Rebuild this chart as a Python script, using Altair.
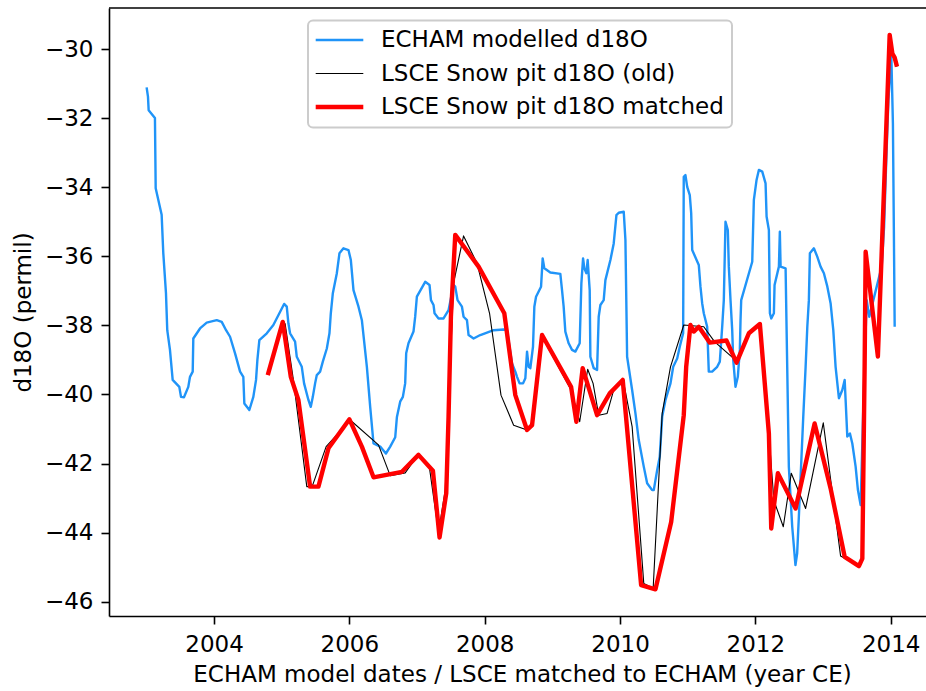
import altair as alt
import pandas as pd

# ECHAM modelled d18O (decimal year, permil)
echam_year = [
    2003.004, 2003.024, 2003.034, 2003.127, 2003.138, 2003.226, 2003.250, 2003.290, 2003.309, 2003.349,
    2003.389, 2003.487, 2003.512, 2003.556, 2003.620, 2003.645, 2003.685, 2003.694, 2003.793, 2003.892,
    2004.040, 2004.114, 2004.178, 2004.237, 2004.311, 2004.385, 2004.433, 2004.448, 2004.522, 2004.581,
    2004.621, 2004.641, 2004.670, 2004.780, 2004.877, 2004.966, 2005.036, 2005.075, 2005.099, 2005.124,
    2005.198, 2005.223, 2005.297, 2005.331, 2005.395, 2005.430, 2005.460, 2005.494, 2005.519, 2005.568,
    2005.608, 2005.667, 2005.706, 2005.726, 2005.756, 2005.815, 2005.854, 2005.913, 2005.987, 2006.022,
    2006.061, 2006.135, 2006.185, 2006.259, 2006.308, 2006.357, 2006.456, 2006.540, 2006.604, 2006.678,
    2006.703, 2006.751, 2006.791, 2006.825, 2006.840, 2006.874, 2006.948, 2006.973, 2006.998, 2007.121,
    2007.185, 2007.206, 2007.244, 2007.259, 2007.318, 2007.392, 2007.466, 2007.540, 2007.565, 2007.599,
    2007.664, 2007.688, 2007.738, 2007.762, 2007.836, 2007.935, 2008.034, 2008.132, 2008.280, 2008.330,
    2008.404, 2008.453, 2008.478, 2008.516, 2008.567, 2008.601, 2008.626, 2008.650, 2008.675, 2008.714,
    2008.734, 2008.759, 2008.833, 2008.857, 2008.882, 2008.970, 2009.118, 2009.143, 2009.167, 2009.192,
    2009.241, 2009.291, 2009.340, 2009.404, 2009.429, 2009.454, 2009.473, 2009.503, 2009.522, 2009.552,
    2009.562, 2009.611, 2009.661, 2009.685, 2009.710, 2009.759, 2009.784, 2009.858, 2009.907, 2009.947,
    2009.981, 2010.055, 2010.080, 2010.105, 2010.179, 2010.228, 2010.277, 2010.351, 2010.401, 2010.475,
    2010.499, 2010.549, 2010.587, 2010.623, 2010.672, 2010.746, 2010.786, 2010.845, 2010.883, 2010.933,
    2010.942, 2010.967, 2010.993, 2011.031, 2011.052, 2011.067, 2011.164, 2011.189, 2011.214, 2011.238,
    2011.288, 2011.312, 2011.362, 2011.436, 2011.475, 2011.510, 2011.534, 2011.559, 2011.593, 2011.608,
    2011.633, 2011.658, 2011.673, 2011.707, 2011.741, 2011.771, 2011.781, 2011.791, 2011.954, 2011.978,
    2012.018, 2012.052, 2012.102, 2012.151, 2012.166, 2012.200, 2012.215, 2012.235, 2012.274, 2012.284,
    2012.348, 2012.362, 2012.373, 2012.447, 2012.462, 2012.471, 2012.495, 2012.545, 2012.593, 2012.618,
    2012.643, 2012.708, 2012.743, 2012.768, 2012.791, 2012.806, 2012.865, 2012.915, 2012.964, 2013.013,
    2013.064, 2013.112, 2013.152, 2013.186, 2013.235, 2013.285, 2013.320, 2013.334, 2013.359, 2013.398,
    2013.433, 2013.482, 2013.516, 2013.556, 2013.601, 2013.645, 2013.684, 2013.744, 2013.867, 2013.903,
    2013.932, 2013.966, 2014.010, 2014.033, 2014.047, 2014.059,
]
echam_d18o = [
    -31.11, -31.38, -31.77, -32.00, -34.03, -34.80, -35.90, -37.07, -38.14, -38.71,
    -39.58, -39.78, -40.07, -40.08, -39.78, -39.49, -39.34, -38.38, -38.09, -37.92,
    -37.85, -37.90, -38.14, -38.33, -38.81, -39.34, -39.49, -40.26, -40.45, -40.07,
    -39.58, -39.00, -38.43, -38.23, -37.99, -37.65, -37.38, -37.46, -37.94, -38.23,
    -38.47, -38.91, -39.20, -39.68, -40.16, -40.36, -40.07, -39.68, -39.44, -39.34,
    -39.05, -38.67, -38.23, -37.65, -37.07, -36.49, -35.91, -35.77, -35.82, -36.11,
    -36.98, -37.46, -37.85, -39.20, -40.36, -41.42, -41.51, -41.71, -41.51, -41.24,
    -40.65, -40.21, -40.07, -39.68, -38.81, -38.52, -38.18, -37.75, -37.17, -36.74,
    -36.83, -37.27, -37.41, -37.65, -37.80, -37.80, -37.56, -36.83, -36.88, -37.27,
    -37.46, -37.75, -37.85, -38.28, -38.38, -38.28, -38.21, -38.14, -38.12, -38.14,
    -39.10, -39.34, -39.49, -39.68, -39.68, -39.53, -38.76, -39.20, -39.24, -38.62,
    -37.46, -37.17, -36.88, -36.06, -36.35, -36.47, -36.51, -36.98, -37.46, -38.18,
    -38.52, -38.71, -38.76, -38.52, -36.78, -36.06, -36.35, -36.49, -36.11, -36.98,
    -38.91, -39.24, -39.29, -37.75, -37.41, -37.27, -36.69, -36.11, -35.63, -34.81,
    -34.74, -34.71, -35.53, -38.91, -39.87, -40.55, -41.32, -42.09, -42.57, -42.77,
    -42.77, -42.19, -41.80, -40.65, -40.16, -39.68, -39.20, -38.96, -38.62, -38.23,
    -33.70, -33.65, -33.99, -34.23, -34.76, -35.82, -36.25, -36.88, -37.36, -37.65,
    -38.04, -39.34, -39.34, -39.20, -39.05, -38.04, -37.27, -35.00, -35.24, -36.30,
    -37.27, -38.14, -39.00, -39.78, -39.49, -38.71, -37.85, -37.27, -36.16, -34.37,
    -33.79, -33.50, -33.55, -33.89, -34.85, -35.24, -37.65, -37.80, -37.65, -36.83,
    -36.30, -35.29, -36.30, -36.35, -38.14, -39.20, -42.09, -43.83, -44.94, -44.60,
    -43.54, -40.65, -39.20, -38.04, -37.27, -35.91, -35.77, -36.01, -36.30, -36.49,
    -36.88, -37.36, -38.14, -39.20, -40.11, -39.87, -39.58, -40.16, -41.22, -41.13,
    -41.42, -42.09, -42.77, -43.20, -40.00, -37.27, -37.75, -37.27, -36.30, -35.14,
    -33.40, -31.48, -30.22, -32.15, -35.24, -38.04,
]

# LSCE snow pit d18O on the old depth-age scale
old_year = [
    2005.050, 2005.173, 2005.371, 2005.450, 2005.657, 2006.012, 2006.430, 2006.604, 2006.825, 2007.022,
    2007.185, 2007.318, 2007.417, 2007.540, 2007.688, 2007.886, 2008.072, 2008.241, 2008.428, 2008.626,
    2008.714, 2008.848, 2009.277, 2009.404, 2009.522, 2009.602, 2009.685, 2009.809, 2009.907, 2010.046,
    2010.179, 2010.351, 2010.490, 2010.623, 2010.746, 2010.942, 2011.238, 2011.396, 2011.732, 2011.880,
    2012.052, 2012.200, 2012.274, 2012.413, 2012.531, 2012.743, 2013.004, 2013.260, 2013.531, 2013.581,
    2013.615, 2013.630, 2013.811, 2013.985, 2014.025, 2014.093,
]
old_d18o = [
    -37.94, -39.58, -42.67, -42.67, -41.51, -40.74, -41.46, -42.35, -42.27, -41.73,
    -42.14, -43.99, -42.77, -36.78, -35.41, -36.20, -37.65, -40.02, -40.89, -41.03,
    -40.84, -38.33, -39.87, -40.79, -39.27, -39.68, -40.60, -40.55, -39.87, -39.58,
    -40.93, -45.47, -45.61, -40.55, -39.20, -37.99, -38.04, -38.47, -39.05, -38.33,
    -37.96, -41.13, -43.07, -43.83, -42.28, -43.30, -40.82, -44.68, -44.97, -44.75,
    -39.20, -35.87, -38.90, -29.59, -30.13, -30.51,
]

# LSCE snow pit d18O matched to the ECHAM dates
matched_year = [
    2004.794, 2005.016, 2005.135, 2005.247, 2005.420, 2005.543, 2005.691, 2006.001, 2006.185, 2006.357,
    2006.777, 2007.022, 2007.235, 2007.333, 2007.432, 2007.466, 2007.501, 2007.565, 2007.910, 2008.290,
    2008.453, 2008.626, 2008.700, 2008.848, 2009.277, 2009.355, 2009.448, 2009.661, 2009.848, 2010.040,
    2010.312, 2010.524, 2010.756, 2010.942, 2010.978, 2011.041, 2011.090, 2011.164, 2011.327, 2011.574,
    2011.722, 2011.904, 2012.067, 2012.200, 2012.235, 2012.333, 2012.595, 2012.876, 2013.112, 2013.320,
    2013.531, 2013.581, 2013.615, 2013.630, 2013.811, 2013.985, 2014.025, 2014.059, 2014.093,
]
matched_d18o = [
    -39.44, -37.90, -39.49, -40.16, -42.67, -42.67, -41.56, -40.72, -41.51, -42.40,
    -42.24, -41.75, -42.21, -44.14, -42.86, -40.65, -37.75, -35.38, -36.30, -37.65,
    -40.02, -41.03, -40.89, -38.28, -39.78, -40.79, -39.24, -40.60, -39.97, -39.58,
    -45.52, -45.64, -43.69, -40.60, -39.20, -37.99, -38.18, -38.04, -38.50, -38.44,
    -39.08, -38.23, -37.96, -41.13, -43.88, -42.28, -43.30, -40.84, -42.72, -44.70,
    -44.97, -44.75, -39.20, -35.87, -38.90, -29.59, -30.13, -30.25, -30.51,
]

series_names = ["ECHAM modelled d18O", "LSCE Snow pit d18O (old)", "LSCE Snow pit d18O matched"]
series_colors = ["#2094f8", "#000000", "#FF0000"]
series_widths = [2.4, 1.1, 4.4]

x_ticks = [2004, 2006, 2008, 2010, 2012, 2014]
y_ticks = [-46, -44, -42, -40, -38, -36, -34, -32, -30]
x_domain = [2002.448, 2014.522]
y_domain = [-46.414, -28.813]

FONT = "DejaVu Sans"


def frame(years, values, name):
    return pd.DataFrame({"year": years, "d18o": values, "series": name})


x_enc = alt.X(
    "year:Q",
    scale=alt.Scale(domain=x_domain, nice=False, zero=False),
    axis=alt.Axis(
        values=x_ticks, format="d", title="ECHAM model dates / LSCE matched to ECHAM (year CE)",
        labelBaseline="alphabetic", labelPadding=27.7,
        titleX=413, titleY=65.7, titleAlign="center", titleBaseline="alphabetic",
    ),
)
y_enc = alt.Y(
    "d18o:Q",
    scale=alt.Scale(domain=y_domain, nice=False, zero=False),
    axis=alt.Axis(
        values=y_ticks, title="d18O (permil)", labelPadding=8,
        titleAngle=270, titleX=-79, titleY=304, titleAlign="center", titleBaseline="alphabetic",
    ),
)

# legend line widths follow each series' line width
width_expr = (
    f"datum.value == '{series_names[0]}' ? {series_widths[0]} : "
    f"datum.value == '{series_names[1]}' ? {series_widths[1]} : {series_widths[2]}"
)

color_enc = alt.Color(
    "series:N",
    scale=alt.Scale(domain=series_names, range=series_colors),
    legend=alt.Legend(
        title=None, orient="none", legendX=199, legendY=12.5,
        symbolType="M-2.38,0H2.38", symbolSize=400, symbolOffset=12,
        symbolStrokeWidth=alt.ExprRef(expr=width_expr),
        labelOffset=30, labelFontSize=23, labelFont=FONT, labelColor="black", labelLimit=1000,
        rowPadding=9.5, padding=8,
        fillColor="rgba(255,255,255,0.8)", strokeColor="#cccccc", cornerRadius=5,
    ),
)

layers = []
for years, values, name, w in zip(
    [echam_year, old_year, matched_year],
    [echam_d18o, old_d18o, matched_d18o],
    series_names,
    series_widths,
):
    layers.append(
        alt.Chart(frame(years, values, name))
        .mark_line(strokeWidth=w, strokeJoin="round", strokeCap="butt")
        .encode(x=x_enc, y=y_enc, color=color_enc)
    )

# top spine of the axes frame
top_spine = (
    alt.Chart(alt.Data(values=[{}]))
    .mark_rule(color="black", strokeWidth=1.6)
    .encode(y=alt.datum(y_domain[1]))
)

chart = (
    alt.layer(*layers, top_spine)
    .properties(
        width=817, height=608,
        autosize=alt.AutoSizeParams(type="none"),
        padding={"left": 109, "top": 8, "right": 0, "bottom": 75},
        background="white",
    )
    .configure(font=FONT)
    .configure_view(strokeWidth=0)
    .configure_legend(strokeWidth=2)
    .configure_axis(
        grid=False, domainColor="black", domainWidth=1.6, tickColor="black", tickWidth=1.6,
        tickSize=8, labelFont=FONT, labelFontSize=23, labelColor="black",
        titleFont=FONT, titleFontSize=23, titleFontWeight="normal", titleColor="black",
    )
)

chart.save("out.html", embed_options={"renderer": "svg", "actions": False})
